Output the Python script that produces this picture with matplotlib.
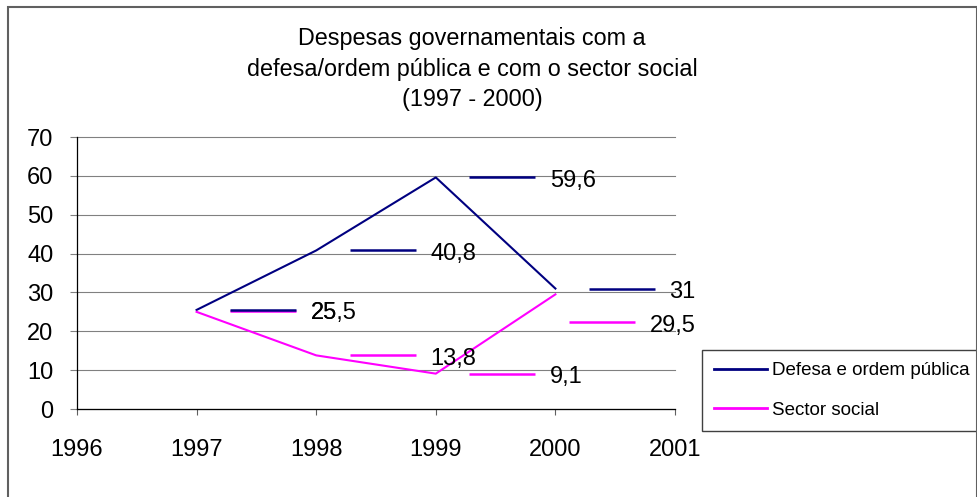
import matplotlib
matplotlib.use("Agg")
import matplotlib.pyplot as plt
from matplotlib.transforms import offset_copy
from matplotlib.patches import Rectangle

plt.rcParams['font.family'] = ['Liberation Sans', 'DejaVu Sans']

# data
years = [1997, 1998, 1999, 2000]
defesa = [25.5, 40.8, 59.6, 31]
social = [25, 13.8, 9.1, 29.5]
series_names = ['Defesa e ordem pública', 'Sector social']
title = 'Despesas governamentais com a\ndefesa/ordem pública e com o sector social\n(1997 - 2000)'
x_ticks = [1996, 1997, 1998, 1999, 2000, 2001]
y_ticks = [0, 10, 20, 30, 40, 50, 60, 70]

navy = '#000080'
magenta = '#FF00FF'

# label placement (pixels): key start from the point, key shift, text shift
label_shift = {('social', 0): (33, 0.8, 1.94), ('social', 3): (13, -28, -28)}


def fmt(v):
    s = ('%g' % v)
    return s.replace('.', ',')


fig = plt.figure(figsize=(9.78, 4.97), dpi=100)
W, H = 978, 497
ax = fig.add_axes([77 / W, 1 - 409 / H, (675 - 77) / W, (409 - 137) / H])

ax.plot(years, defesa, color=navy, lw=1.5, zorder=3, label=series_names[0])
ax.plot(years, social, color=magenta, lw=1.5, zorder=3, label=series_names[1])

# data labels with legend keys
for key, vals, col, z in [('defesa', defesa, navy, 4.1), ('social', social, magenta, 4)]:
    for i, (x, v) in enumerate(zip(years, vals)):
        dx, dy, ty = label_shift.get((key, i), (33, 0, 0))
        tr = offset_copy(ax.transData, fig=fig, x=dx + 33.5, y=dy, units='dots')
        ax.plot([x], [v], marker='_', markersize=48, markeredgewidth=1.8,
                color=col, transform=tr, clip_on=False, zorder=z)
        tr2 = offset_copy(ax.transData, fig=fig, x=dx + 81, y=ty - 9.5, units='dots')
        ax.text(x, v, fmt(v), transform=tr2, ha='left', va='baseline',
                fontsize=17, color='black', clip_on=False, zorder=5)

ax.set_xlim(1996, 2001)
ax.set_ylim(0, 70)
ax.set_xticks(x_ticks)
ax.set_yticks(y_ticks)
ax.tick_params(axis='both', labelsize=17)
ax.tick_params(axis='y', length=5, width=0.8, color='#808080', pad=12)
ax.tick_params(axis='x', length=4.5, width=0.8, color='#606060', pad=17)

ax.grid(axis='y', color='#808080', lw=0.8)
for gl in ax.yaxis.get_gridlines():
    gl.set_clip_on(False)
ax.set_axisbelow(True)
for s in ['top', 'right']:
    ax.spines[s].set_visible(False)
for s in ['left', 'bottom']:
    ax.spines[s].set_color('black')
    ax.spines[s].set_linewidth(0.9)
    ax.spines[s].set_zorder(2.5)

fig.text(472 / W, 1 - 27 / H, title, ha='center', va='top', fontsize=16.8,
         linespacing=1.42, multialignment='center')

leg = ax.legend(loc='upper left', bbox_to_anchor=(702 / W, 1 - 350 / H),
                bbox_transform=fig.transFigure, borderaxespad=0, fontsize=13.5,
                fancybox=False, framealpha=1, edgecolor='#404040',
                handlelength=2.8, handletextpad=0.3, labelspacing=1.2,
                borderpad=0.65)
leg.get_frame().set_linewidth(1.0)
for ln in leg.get_lines():
    ln.set_linewidth(2)

# outer chart border
fig.add_artist(Rectangle((8 / W, -0.02), (977 - 8) / W, 1.02 - 7 / H,
                         transform=fig.transFigure, fill=False,
                         edgecolor='#606060', lw=1.5))

fig.savefig('out.png', dpi=100)
